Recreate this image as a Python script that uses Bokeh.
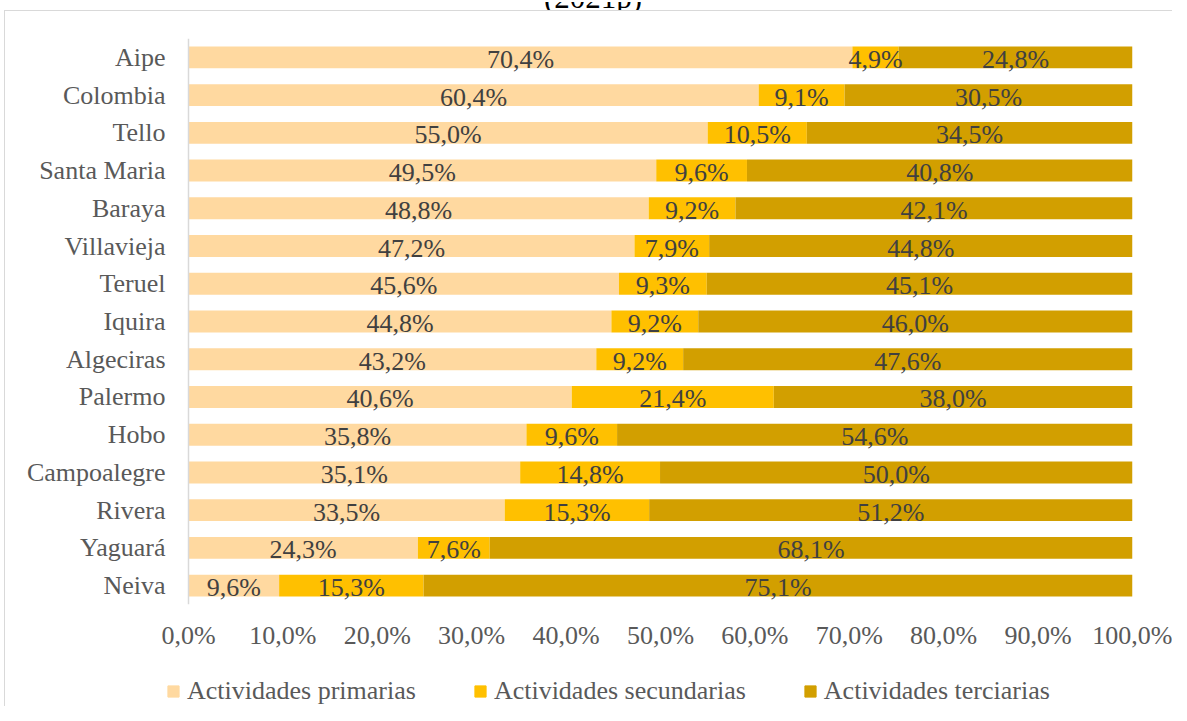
from bokeh.plotting import figure
from bokeh.layouts import column
from bokeh.models import FactorRange, Range1d, ColumnDataSource, FixedTicker, Legend, LegendItem, Span, Div
from bokeh.core.properties import value
from bokeh.embed import file_html
from bokeh.resources import INLINE

municipios = ["Aipe", "Colombia", "Tello", "Santa Maria", "Baraya", "Villavieja", "Teruel",
              "Iquira", "Algeciras", "Palermo", "Hobo", "Campoalegre", "Rivera", "Yaguará", "Neiva"]
primarias = [70.4, 60.4, 55.0, 49.5, 48.8, 47.2, 45.6, 44.8, 43.2, 40.6, 35.8, 35.1, 33.5, 24.3, 9.6]
secundarias = [4.9, 9.1, 10.5, 9.6, 9.2, 7.9, 9.3, 9.2, 9.2, 21.4, 9.6, 14.8, 15.3, 7.6, 15.3]
terciarias = [24.8, 30.5, 34.5, 40.8, 42.1, 44.8, 45.1, 46.0, 47.6, 38.0, 54.6, 50.0, 51.2, 68.1, 75.1]
series_names = ["Actividades primarias", "Actividades secundarias", "Actividades terciarias"]
series_colors = ["#FFD9A0", "#FFC000", "#D29F00"]
x_tick_values = [0, 10, 20, 30, 40, 50, 60, 70, 80, 90, 100]
x_tick_labels = ["0,0%", "10,0%", "20,0%", "30,0%", "40,0%", "50,0%", "60,0%", "70,0%", "80,0%", "90,0%", "100,0%"]
title_fragment = "(2021p)"

FONT = "Liberation Serif, Times New Roman, serif"

# layout constants (pixels)
PLOT_PX = 944      # width of the 0..100% span
GAP_PX = 22        # gap between label column and 0%
x_start = -GAP_PX / PLOT_PX * 100

# 100% stacked: normalise each row
series = [primarias, secundarias, terciarias]
totals = [sum(v) for v in zip(*series)]
keys = ["s0", "s1", "s2"]
data = {"municipio": municipios}
for k, s in zip(keys, series):
    data[k] = [v / t * 100 for v, t in zip(s, totals)]
source = ColumnDataSource(data)

p = figure(width=1167, height=650,
           y_range=FactorRange(*list(reversed(municipios))),
           x_range=Range1d(x_start, 100),
           min_border_left=161, min_border_right=40, min_border_top=27, min_border_bottom=57,
           output_backend="svg", toolbar_location=None, margin=0)

renderers = p.hbar_stack(keys, y="municipio", height=0.58, color=series_colors, source=source,
                         line_color=None)

# vertical category axis line at 0%
p.add_layout(Span(location=0, dimension="height", line_color="#D9D9D9", line_width=1.5))

# data labels
lx, ly, lt = [], [], []
for i, m in enumerate(municipios):
    cum = 0
    for k, s in zip(keys, series):
        w = data[k][i]
        lx.append(cum + w / 2)
        ly.append(m)
        lt.append(f"{s[i]:.1f}".replace(".", ",") + "%")
        cum += w
p.text(x=lx, y=ly, text=lt, text_align="center", text_baseline="middle",
       text_font=value(FONT), text_font_size="26px", text_color="#404040", y_offset=2)

p.xgrid.visible = False
p.ygrid.visible = False
p.outline_line_color = None

p.xaxis.ticker = FixedTicker(ticks=x_tick_values)
p.xaxis.major_label_overrides = {v: l for v, l in zip(x_tick_values, x_tick_labels)}
p.xaxis.axis_line_color = None
p.xaxis.major_tick_line_color = None
p.xaxis.minor_tick_line_color = None
p.xaxis.major_label_standoff = 10
p.xaxis.major_label_text_font = FONT
p.xaxis.major_label_text_font_size = "26px"
p.xaxis.major_label_text_color = "#595959"

p.yaxis.axis_line_color = None
p.yaxis.major_tick_line_color = None
p.yaxis.minor_tick_line_color = None
p.yaxis.major_label_standoff = -5
p.yaxis.major_label_text_font = FONT
p.yaxis.major_label_text_font_size = "26px"
p.yaxis.major_label_text_color = "#595959"

# legend strip (frame aligns with the main frame)
lg = figure(width=1167, height=45, x_range=Range1d(0, 1), y_range=Range1d(0, 1),
            min_border=0, x_axis_location=None, y_axis_location=None,
            output_backend="svg", toolbar_location=None, margin=0)
lg.grid.visible = False
lg.outline_line_color = None
dummies = [lg.hbar(y=[-10], right=[-10], height=0.1, color=c) for c in series_colors]
legend = Legend(items=[LegendItem(label=n, renderers=[r]) for n, r in zip(series_names, dummies)],
                orientation="horizontal", location=(0, 0),
                label_text_font=FONT, label_text_font_size="26px", label_text_color="#595959",
                glyph_width=14, glyph_height=14, label_standoff=7, spacing=57, label_height=30,
                padding=0, margin=0, border_line_color=None, background_fill_alpha=0)
lg.add_layout(legend)

# title, cut off at the top edge as in the source image
title_div = Div(
    text=('<div style="height:10px;width:1171px;overflow:hidden;position:relative;margin:0;padding:0;">'
          '<div style="position:absolute;top:-20px;left:544px;white-space:nowrap;'
          "font-family:'Liberation Serif',serif;font-size:31px;line-height:31px;color:#000;\">"
          + title_fragment + '</div></div>'),
    width=1171, height=10, margin=0,
    styles={"overflow": "hidden", "height": "10px", "margin": "0", "padding": "0"})

chart = column(p, lg, spacing=0, margin=0)
chart.styles = {"border-top": "1px solid #D9D9D9", "border-left": "1px solid #D9D9D9",
                "margin-left": "4px"}

layout = column(title_div, chart, spacing=0, margin=0)

open("out.html", "w").write(file_html(layout, INLINE))
